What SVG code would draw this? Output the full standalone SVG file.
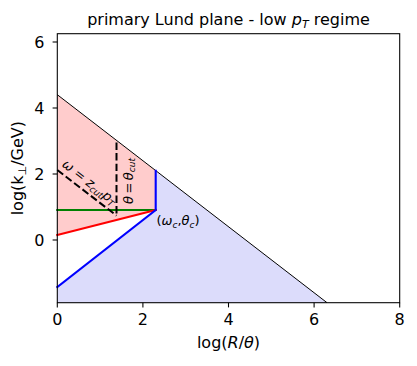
<svg xmlns="http://www.w3.org/2000/svg" width="417" height="366" viewBox="0 0 417 366">
<style>
text{font-family:"DejaVu Sans","Liberation Sans",sans-serif;fill:#000}
.t16{font-size:16px}
.ann{font-size:13px}
.it{font-style:italic}
.tick{stroke:#000;stroke-width:1.07}
.thin{fill:none;stroke:#000;stroke-width:1}
.dash{fill:none;stroke:#000;stroke-width:2;stroke-dasharray:7.4 3.2}
.ln{fill:none;stroke-width:2.1;stroke-linecap:square}
</style>
<rect width="417" height="366" fill="#fff"/>
<g id="regions">
<polygon id="pink" points="57.3,94.7 155.7,170.7 155.7,210 57.3,235" fill="#ffcccc"/>
<polygon id="lavender" points="155.7,170.7 327,302.7 57.3,302.7 57.3,287 155.7,210" fill="#dcdcfb"/>
</g>
<g id="connectors">
<line class="thin" x1="57.3" y1="94.7" x2="327" y2="302.7"/>
<line class="ln" stroke="#008000" x1="57.3" y1="210" x2="155.7" y2="210"/>
<line class="ln" stroke="#ff0000" x1="57.3" y1="235" x2="155.7" y2="210"/>
<polyline class="ln" stroke="#0000ff" points="57.3,287 155.7,210 155.7,170.7"/>
<line class="dash" x1="116.5" y1="142.5" x2="116.5" y2="216"/>
<line class="dash" x1="57.3" y1="170" x2="116.5" y2="215.6"/>
</g>
<g id="labels">
<text class="ann" transform="translate(86.8,185.6) rotate(37.8)" text-anchor="middle"><tspan class="it">ω</tspan> = <tspan class="it">z</tspan><tspan class="it" font-size="9px" dy="2.5">cut</tspan><tspan class="it" dy="-2.5">p</tspan><tspan class="it" font-size="9px" dy="2.5">T</tspan></text>
<text class="ann" transform="translate(132.5,181) rotate(-90)" text-anchor="middle"><tspan class="it">θ</tspan><tspan dx="2.5">=</tspan><tspan class="it" dx="2.5">θ</tspan><tspan class="it" font-size="9px" dy="2.5">cut</tspan></text>
<text class="ann" x="156.5" y="225">(<tspan class="it">ω</tspan><tspan class="it" font-size="9px" dy="2.5">c</tspan><tspan dy="-2.5">,</tspan><tspan class="it">θ</tspan><tspan class="it" font-size="9px" dy="2.5">c</tspan><tspan dy="-2.5">)</tspan></text>
</g>
<g id="axes">
<rect x="57.3" y="33.7" width="342.4" height="269" fill="none" stroke="#000" stroke-width="1.07"/>
<g class="tick">
<line x1="57.3" y1="302.7" x2="57.3" y2="307.4"/>
<line x1="142.9" y1="302.7" x2="142.9" y2="307.4"/>
<line x1="228.5" y1="302.7" x2="228.5" y2="307.4"/>
<line x1="314.1" y1="302.7" x2="314.1" y2="307.4"/>
<line x1="399.7" y1="302.7" x2="399.7" y2="307.4"/>
<line x1="52.6" y1="42" x2="57.3" y2="42"/>
<line x1="52.6" y1="108" x2="57.3" y2="108"/>
<line x1="52.6" y1="174" x2="57.3" y2="174"/>
<line x1="52.6" y1="240" x2="57.3" y2="240"/>
</g>
<g class="t16" text-anchor="middle">
<text x="57.3" y="325">0</text>
<text x="142.9" y="325">2</text>
<text x="228.5" y="325">4</text>
<text x="314.1" y="325">6</text>
<text x="399.7" y="325">8</text>
</g>
<g class="t16" text-anchor="end">
<text x="44.5" y="47.8">6</text>
<text x="44.5" y="113.8">4</text>
<text x="44.5" y="179.8">2</text>
<text x="44.5" y="245.8">0</text>
</g>
<text class="t16" x="228.5" y="348" text-anchor="middle">log(<tspan class="it">R</tspan>/<tspan class="it">θ</tspan>)</text>
<text class="t16" transform="translate(23.3,168.2) rotate(-90)" text-anchor="middle">log(k<tspan font-size="11px" dy="3">⊥</tspan><tspan dy="-3">/GeV)</tspan></text>
<text class="t16" x="228.5" y="24.5" text-anchor="middle">primary Lund plane - low <tspan class="it">p</tspan><tspan class="it" font-size="11px" dy="3">T</tspan><tspan dy="-3"> regime</tspan></text>
</g>
</svg>
